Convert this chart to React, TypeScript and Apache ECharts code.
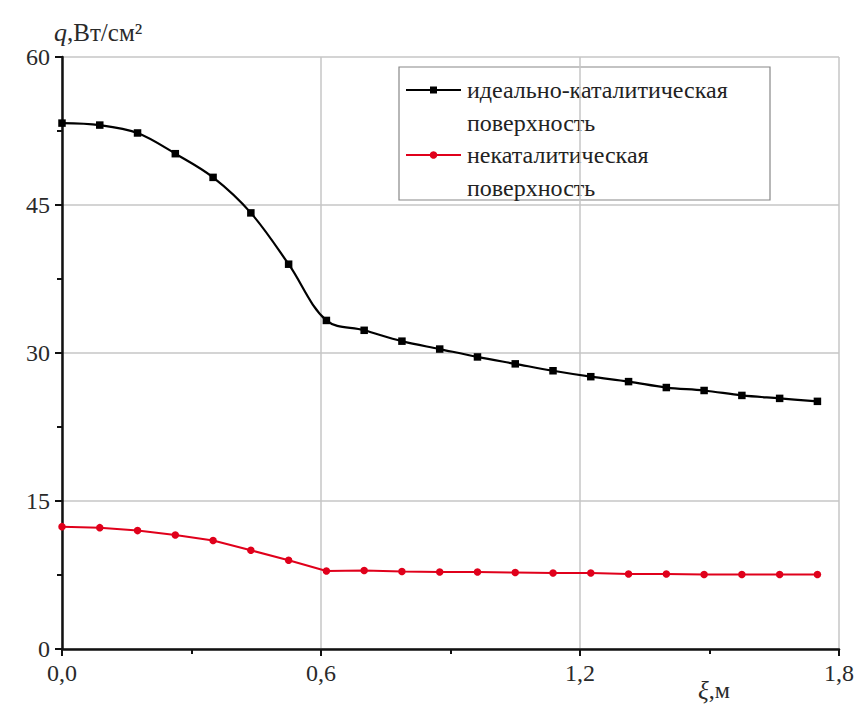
import React, { useEffect, useRef } from "react";
import * as echarts from "echarts";

const xValues = [0, 0.0875, 0.175, 0.2625, 0.35, 0.4375, 0.525, 0.6125, 0.7, 0.7875, 0.875, 0.9625, 1.05, 1.1375, 1.225, 1.3125, 1.4, 1.4875, 1.575, 1.6625, 1.75];
const catalyticValues = [53.3, 53.1, 52.3, 50.2, 47.8, 44.2, 39.0, 33.3, 32.3, 31.2, 30.4, 29.6, 28.9, 28.2, 27.6, 27.1, 26.5, 26.2, 25.7, 25.4, 25.1];
const nonCatalyticValues = [12.4, 12.3, 12.0, 11.55, 11.0, 10.0, 9.0, 7.9, 7.95, 7.85, 7.8, 7.8, 7.75, 7.7, 7.7, 7.6, 7.6, 7.55, 7.55, 7.55, 7.55];
const seriesNames = ["идеально-каталитическая поверхность", "некаталитическая поверхность"];
const legendLines = [["идеально-каталитическая", "поверхность"], ["некаталитическая", "поверхность"]];
const xTickLabels = ["0,0", "0,6", "1,2", "1,8"];

const FONT = "Liberation Serif";

export default function App() {
  const ref = useRef<HTMLDivElement>(null);
  useEffect(() => {
    document.body.style.margin = "0";
    const chart = echarts.init(ref.current!, null, { renderer: "svg" });
    const legendX = 399, legendY = 67;
    const rowH = 32.5;
    const colors = ["#000000", "#e0001b"];
    const legendChildren: any[] = [
      { type: "rect", shape: { x: legendX, y: legendY, width: 371, height: 133 }, style: { fill: "#fff", stroke: "#888", lineWidth: 1.2 } },
    ];
    legendLines.forEach((lines, i) => {
      const y0 = legendY + 23 + i * 2 * rowH;
      legendChildren.push({ type: "line", shape: { x1: legendX + 7, y1: y0, x2: legendX + 62, y2: y0 }, style: { stroke: colors[i], lineWidth: 2 } });
      if (i === 0) {
        legendChildren.push({ type: "rect", shape: { x: legendX + 31, y: y0 - 3.5, width: 7, height: 7 }, style: { fill: colors[i] } });
      } else {
        legendChildren.push({ type: "circle", shape: { cx: legendX + 34.5, cy: y0, r: 3.8 }, style: { fill: colors[i] } });
      }
      lines.forEach((t, j) => {
        legendChildren.push({
          type: "text",
          x: legendX + 68,
          y: y0 + j * rowH,
          style: { text: t, fontFamily: FONT, fontSize: 24, fill: "#222", verticalAlign: "middle", align: "left" },
        });
      });
    });

    chart.setOption({
      animation: false,
      backgroundColor: "#fff",
      textStyle: { fontFamily: FONT },
      grid: { left: 62, right: 24, top: 57, bottom: 59, containLabel: false },
      xAxis: {
        type: "value",
        min: 0,
        max: 1.8,
        interval: 0.6,
        axisLine: { lineStyle: { color: "#111", width: 2.5 } },
        axisTick: { show: true, length: 7, lineStyle: { color: "#111", width: 2 } },
        minorTick: { show: true, splitNumber: 2, length: 5, lineStyle: { color: "#111", width: 2 } },
        axisLabel: {
          margin: 12,
          color: "#2a2a2a",
          fontFamily: FONT,
          fontSize: 24,
          formatter: (v: number) => xTickLabels[Math.round(v / 0.6)] ?? String(v),
        },
        splitLine: { show: true, lineStyle: { color: "#c6c6c6", width: 1.5 } },
      },
      yAxis: {
        type: "value",
        min: 0,
        max: 60,
        interval: 15,
        name: "{i|q},Вт/см²",
        nameLocation: "end",
        nameGap: 11,
        nameTextStyle: {
          fontFamily: FONT,
          fontSize: 25,
          color: "#2a2a2a",
          align: "left",
          padding: [0, 0, 0, -8],
          rich: { i: { fontFamily: FONT, fontSize: 26, fontStyle: "italic", color: "#2a2a2a" } },
        },
        axisLine: { show: true, lineStyle: { color: "#111", width: 2.5 } },
        axisTick: { show: true, length: 7, lineStyle: { color: "#111", width: 2 } },
        minorTick: { show: true, splitNumber: 2, length: 5, lineStyle: { color: "#111", width: 2 } },
        axisLabel: { margin: 12, color: "#2a2a2a", fontFamily: FONT, fontSize: 24 },
        splitLine: { show: true, lineStyle: { color: "#c6c6c6", width: 1.5 } },
      },
      series: [
        {
          name: seriesNames[0],
          type: "line",
          smooth: 0.35,
          data: xValues.map((x, i) => [x, catalyticValues[i]]),
          symbol: "rect",
          symbolSize: 7.5,
          itemStyle: { color: colors[0] },
          lineStyle: { color: colors[0], width: 2.2 },
          z: 3,
        },
        {
          name: seriesNames[1],
          type: "line",
          smooth: false,
          data: xValues.map((x, i) => [x, nonCatalyticValues[i]]),
          symbol: "circle",
          symbolSize: 7.5,
          itemStyle: { color: colors[1] },
          lineStyle: { color: colors[1], width: 2 },
          z: 3,
        },
      ],
      graphic: [
        ...legendChildren,
        {
          type: "text",
          x: 698,
          y: 690,
          style: {
            text: "{i|ξ},м",
            fontFamily: FONT,
            fontSize: 24,
            fill: "#2a2a2a",
            verticalAlign: "middle",
            rich: { i: { fontFamily: FONT, fontSize: 25, fontStyle: "italic", fill: "#2a2a2a" } },
          },
        },
      ],
    });
    return () => chart.dispose();
  }, []);
  return <div ref={ref} style={{ width: 863, height: 708 }} />;
}
